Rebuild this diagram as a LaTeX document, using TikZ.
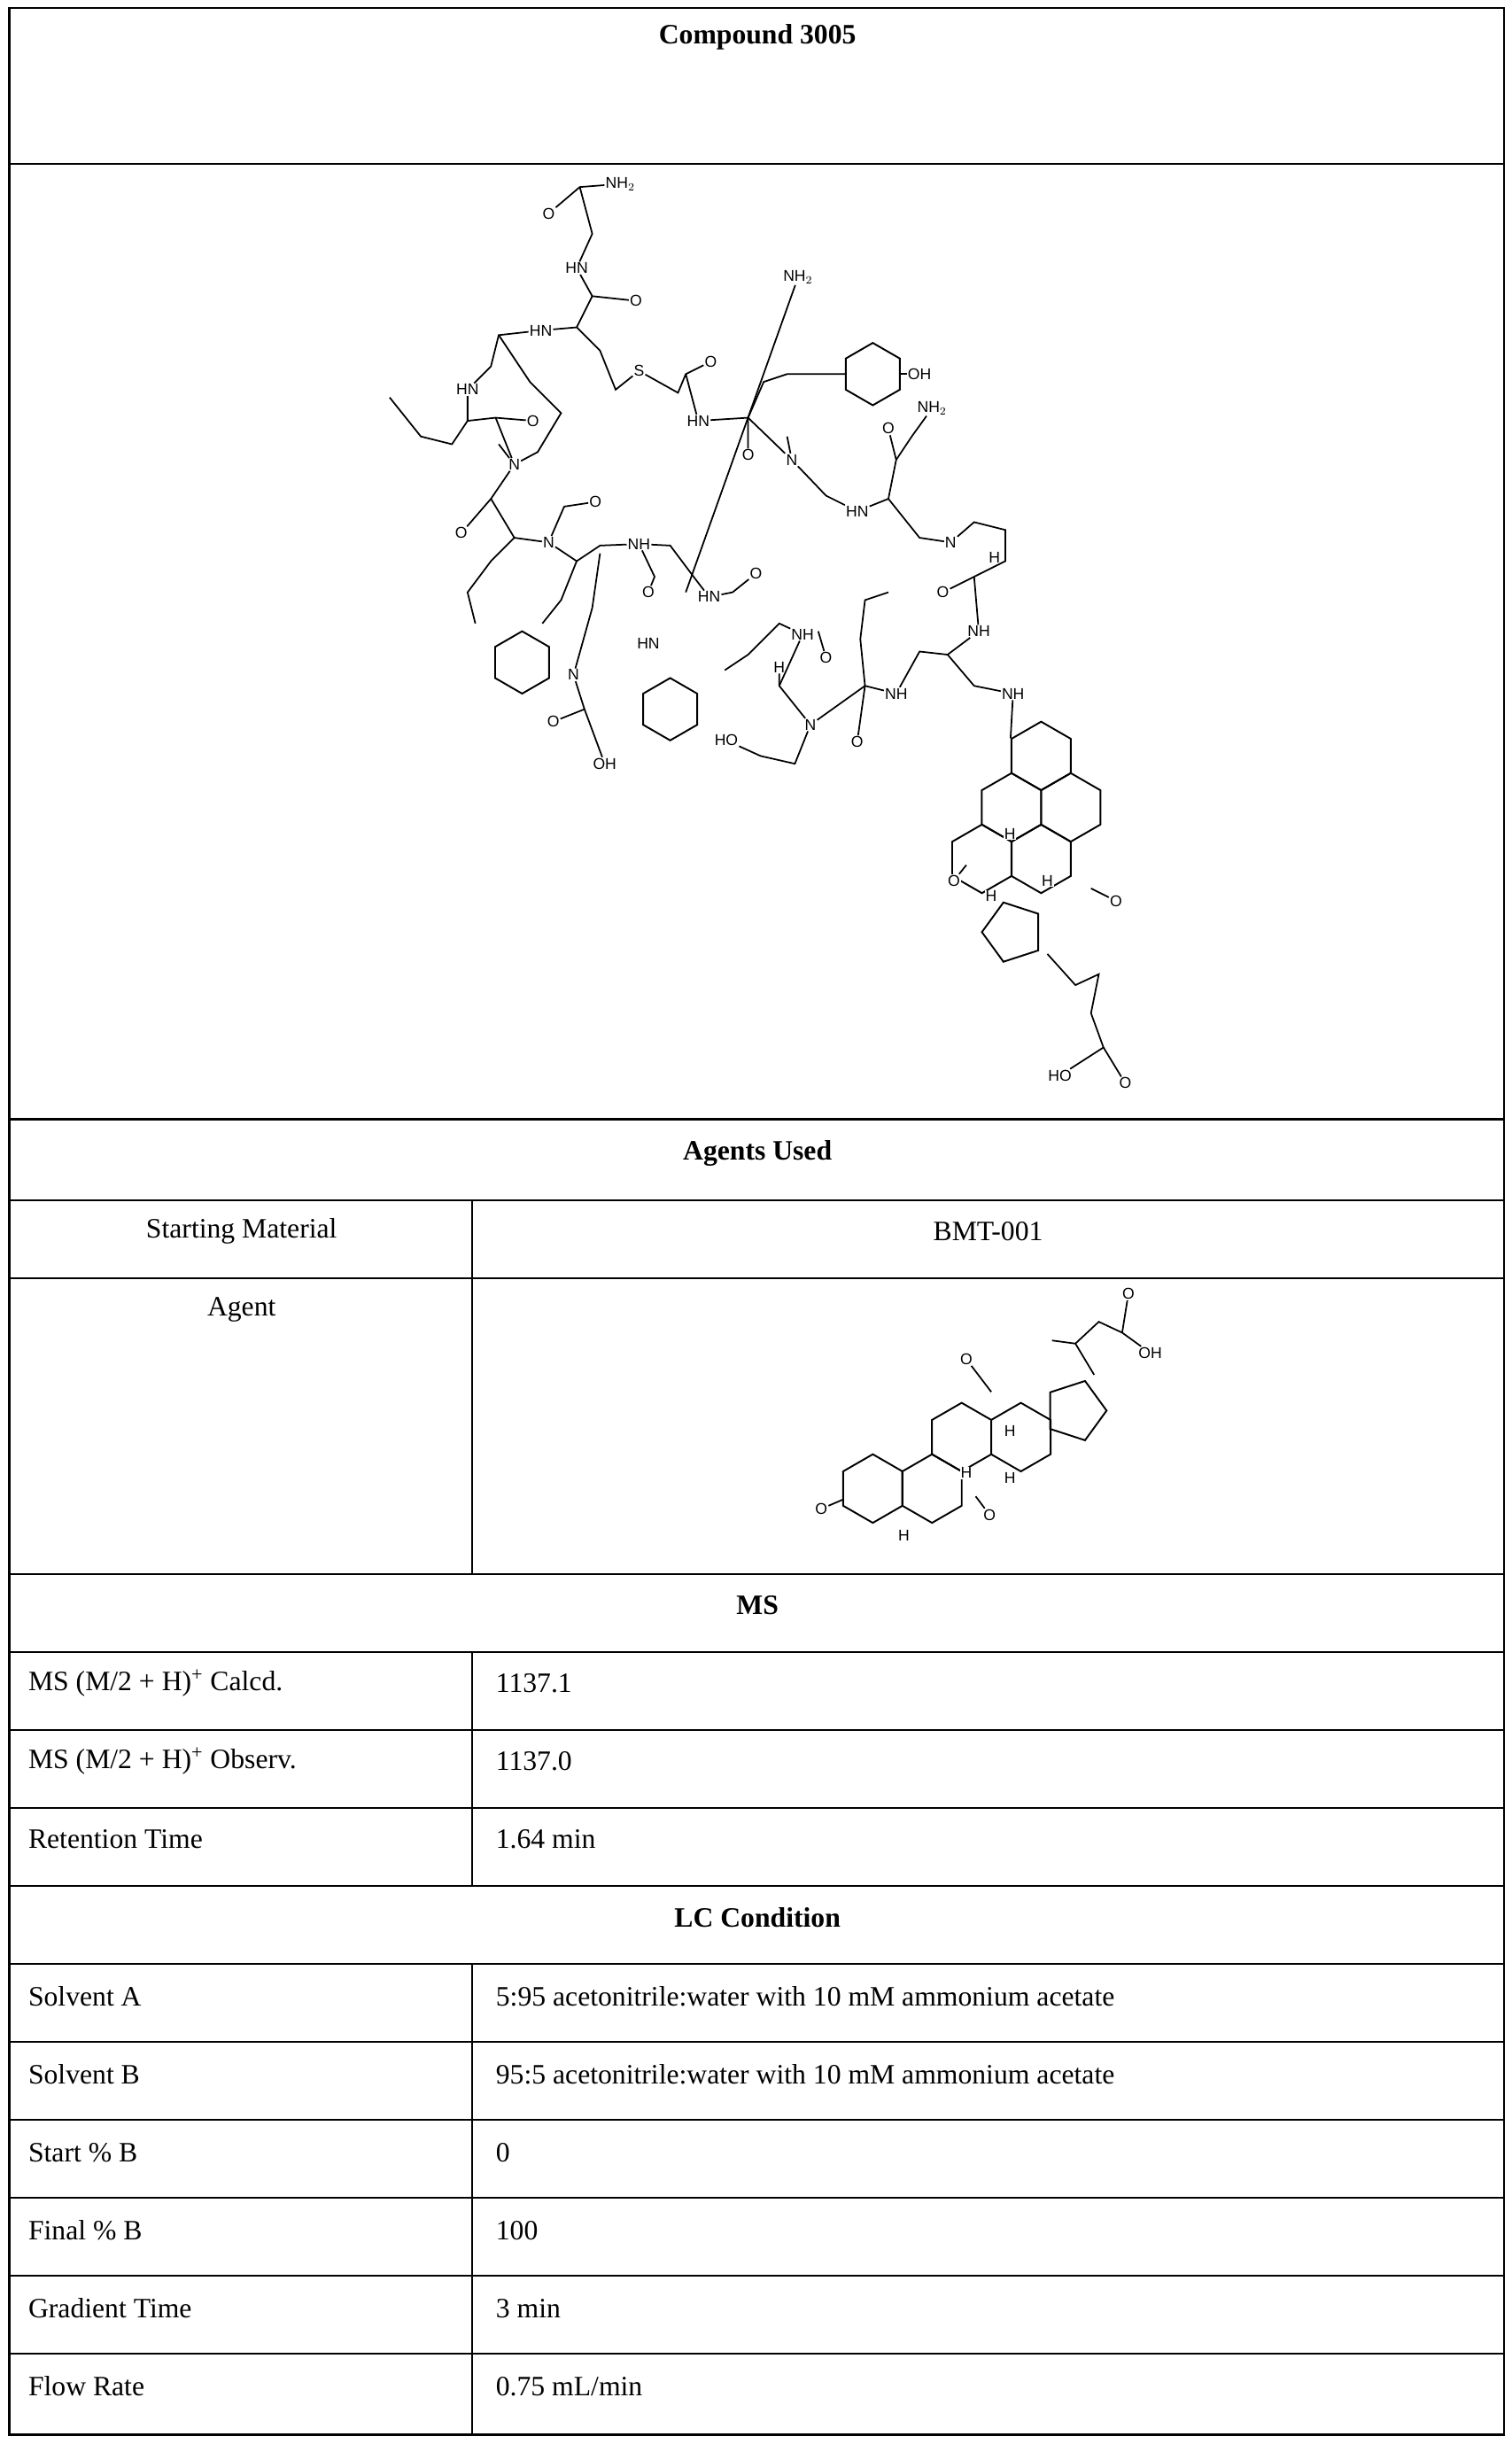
\documentclass[tikz,border=0pt]{standalone}
\usepackage{fontspec}
\setmainfont{Liberation Serif}
\newfontfamily\chemf{Liberation Sans}
\usetikzlibrary{shapes.geometric}
\begin{document}
\begin{tikzpicture}[x=1pt,y=-1pt,
 ln/.style={line width=1.3pt},
 txt/.style={font=\fontsize{18}{20}\selectfont,inner sep=0},
 hx/.style={draw,line width=1.1pt,regular polygon,regular polygon sides=6,minimum size=44pt,inner sep=0,shape border rotate=30},
 pn/.style={draw,line width=1.1pt,regular polygon,regular polygon sides=5,minimum size=40pt,inner sep=0},
 atm/.style={font=\chemf\fontsize{10}{10}\selectfont,fill=white,inner sep=0.5pt},
 bd/.style={line width=1pt}]
\useasboundingbox (0,0) rectangle (970,1568);
\fill[white] (0,0) rectangle (970,1568);
% table lines
\draw[ln] (6,5) rectangle (965,1562);
\foreach \y in {105,718,770,820,1010,1060,1110,1160,1210,1260,1310,1360,1410,1460,1510}
  \draw[ln] (6,\y) -- (965,\y);
\draw[ln] (303,770) -- (303,1010);
\draw[ln] (303,1060) -- (303,1210);
\draw[ln] (303,1260) -- (303,1562);
% texts
\node[txt,font=\bfseries\fontsize{18}{20}\selectfont] (t0) at (486,24) {Compound 3005};
\node[txt,font=\bfseries\fontsize{18}{20}\selectfont] (t1) at (486,740) {Agents Used};
\node[txt] (t2) at (155,790) {Starting Material};
\node[txt] (t3) at (634,790) {BMT-001};
\node[txt] (t4) at (155,840) {Agent};
\node[txt,font=\bfseries\fontsize{18}{20}\selectfont] (t5) at (486,1030) {MS};
\node[txt,anchor=west] (l1) at (18,1080) {MS (M/2 + H)\textsuperscript{+} Calcd.};
\node[txt,anchor=west] (r1) at (318,1080) {1137.1};
\node[txt,anchor=west] (l2) at (18,1130) {MS (M/2 + H)\textsuperscript{+} Observ.};
\node[txt,anchor=west] (r2) at (318,1130) {1137.0};
\node[txt,anchor=west] (l3) at (18,1180) {Retention Time};
\node[txt,anchor=west] (r3) at (318,1180) {1.64 min};
\node[txt,font=\bfseries\fontsize{18}{20}\selectfont] (t6) at (486,1230) {LC Condition};
\node[txt,anchor=west] (l4) at (18,1281) {Solvent A};
\node[txt,anchor=west] (r4) at (318,1281) {5:95 acetonitrile:water with 10 mM ammonium acetate};
\node[txt,anchor=west] (l5) at (18,1331) {Solvent B};
\node[txt,anchor=west] (r5) at (318,1331) {95:5 acetonitrile:water with 10 mM ammonium acetate};
\node[txt,anchor=west] (l6) at (18,1381) {Start \% B};
\node[txt,anchor=west] (r6) at (318,1381) {0};
\node[txt,anchor=west] (l7) at (18,1431) {Final \% B};
\node[txt,anchor=west] (r7) at (318,1431) {100};
\node[txt,anchor=west] (l8) at (18,1481) {Gradient Time};
\node[txt,anchor=west] (r8) at (318,1481) {3 min};
\node[txt,anchor=west] (l9) at (18,1531) {Flow Rate};
\node[txt,anchor=west] (r9) at (318,1531) {0.75 mL/min};
% agent steroid
\node[hx] (aA) at (560,955) {};
\node[hx] (aB) at (598,955) {};
\node[hx] (aC) at (617,922) {};
\node[hx] (aC2) at (655,922) {};
\node[pn,rotate=-18] (aD) at (690,905) {};
\node[atm] (aO1) at (527,968) {O};
\node[atm] (aO2) at (635,972) {O};
\node[atm] (aO3) at (620,872) {O};
\node[atm] (aOH) at (738,868) {OH};
\node[atm] (aO4) at (724,830) {O};
\node[atm] (aH1) at (580,985) {H};
\node[atm] (aH2) at (620,945) {H};
\node[atm] (aH3) at (648,948) {H};
\node[atm] (aH4) at (648,918) {H};
\draw[bd] (aO1) -- (541,962);
\draw[bd] (aO2) -- (626,960);
\draw[bd] (aO3) -- (636,893);
\draw[bd] (702,882) -- (690,862) -- (705,848) -- (720,855) -- (aOH);
\draw[bd] (720,855) -- (aO4);
\draw[bd] (690,862) -- (675,860);
% compound: steroid
\node[hx] (cA) at (668,485) {};
\node[hx] (cB) at (649,518) {};
\node[hx] (cC) at (687,518) {};
\node[hx] (cD) at (630,551) {};
\node[hx] (cE) at (668,551) {};
\node[pn,rotate=18] (cF) at (650,598) {};
\node[atm] (cNH) at (650,445) {NH};
\node[atm] (cO1) at (612,565) {O};
\node[atm] (cO2) at (716,578) {O};
\node[atm] (cH1) at (648,535) {H};
\node[atm] (cH2) at (672,565) {H};
\node[atm] (cH3) at (636,575) {H};
\node[atm] (cHO) at (680,690) {HO};
\node[atm] (cO3) at (722,695) {O};
\draw[bd] (cNH) -- (cA.corner 2);
\draw[bd] (cO2) -- (700,570);
\draw[bd] (cO1) -- (620,555);
\draw[bd] (672,612) -- (690,632) -- (705,625) -- (700,650) -- (708,672) -- (cHO);
\draw[bd] (708,672) -- (cO3);
% compound: macrocycle
\node[hx,minimum size=40pt] (ind1) at (430,455) {};
\node[hx,minimum size=40pt] (ind2) at (335,425) {};
\node[hx,minimum size=40pt] (tyr) at (560,240) {};
\foreach \n/\px/\py/\t in {a1/398/118/NH$_2$, a2/352/137/O, a3/370/172/HN, a4/408/193/O, a5/512/178/NH$_2$,
 a6/347/212/HN, a7/410/238/S, a8/456/232/O, a9/590/240/OH, a10/598/262/NH$_2$, a11/300/250/HN,
 a12/342/270/O, a13/448/270/HN, a14/330/298/N, a15/508/295/N, a16/296/342/O, a17/352/348/N,
 a18/382/322/O, a19/410/349/NH, a20/550/328/HN, a21/610/348/N, a22/605/380/O, a23/628/405/NH,
 a24/416/380/O, a25/455/383/HN, a26/485/368/O, a27/515/407/NH, a28/530/422/O, a29/500/428/H,
 a30/520/465/N, a31/575/445/NH, a32/550/476/O, a33/466/475/HO, a34/416/413/HN, a35/638/358/H,
 a36/388/490/OH, a37/355/463/O, a38/368/433/N, a39/570/275/O, a40/480/292/O}
 \node[atm] (\n) at (\px,\py) {\t};
\draw[bd] (a2) -- (372,120) -- (a1);
\draw[bd] (372,120) -- (380,150) -- (a3) -- (380,190) -- (a4);
\draw[bd] (380,190) -- (370,210) -- (a6) -- (320,215) -- (315,235) -- (a11) -- (300,270) -- (318,268) -- (a12);
\draw[bd] (300,270) -- (290,285) -- (270,280) -- (250,255);
\draw[bd] (318,268) -- (a14) -- (315,320) -- (a16);
\draw[bd] (315,320) -- (330,345) -- (315,360) -- (300,380) -- (305,400);
\draw[bd] (a14) -- (320,285); \draw[bd] (a14) -- (345,290) -- (360,265) -- (340,245) -- (320,215);
\draw[bd] (330,345) -- (a17) -- (362,325) -- (a18);
\draw[bd] (a17) -- (370,360) -- (385,350) -- (a19) -- (430,350) -- (445,370) -- (a25) -- (470,380) -- (a26);
\draw[bd] (370,360) -- (360,385) -- (348,400);
\draw[bd] (a19) -- (420,370) -- (a24);
\draw[bd] (370,210) -- (385,225) -- (395,250) -- (a7) -- (435,252) -- (440,240) -- (a8);
\draw[bd] (440,240) -- (a13) -- (480,268) -- (a40);
\draw[bd] (480,268) -- (490,245) -- (505,240) -- (tyr);
\draw[bd] (tyr) -- (a9);
\draw[bd] (a5) -- (440,380);
\draw[bd] (480,268) -- (a15) -- (530,318) -- (a20) -- (570,320) -- (590,345) -- (a21);
\draw[bd] (a15) -- (505,280);
\draw[bd] (570,320) -- (575,295) -- (a39);
\draw[bd] (575,295) -- (585,280) -- (a10);
\draw[bd] (a21) -- (625,335) -- (645,340) -- (645,360) -- (625,370) -- (a22);
\draw[bd] (625,370) -- (a23) -- (608,420) -- (590,418) -- (a31) -- (555,440) -- (a32);
\draw[bd] (555,440) -- (552,410) -- (555,385) -- (570,380);
\draw[bd] (608,420) -- (625,440) -- (cNH);
\draw[bd] (555,440) -- (a30) -- (500,440) -- (a29);
\draw[bd] (a30) -- (510,490) -- (488,485) -- (a33);
\draw[bd] (500,440) -- (a27) -- (500,400) -- (480,420) -- (465,430);
\draw[bd] (a28) -- (525,405);
\draw[bd] (385,355) -- (380,390) -- (a38);
\draw[bd] (a38) -- (375,455) -- (a37);
\draw[bd] (375,455) -- (a36);
\end{tikzpicture}
\end{document}
